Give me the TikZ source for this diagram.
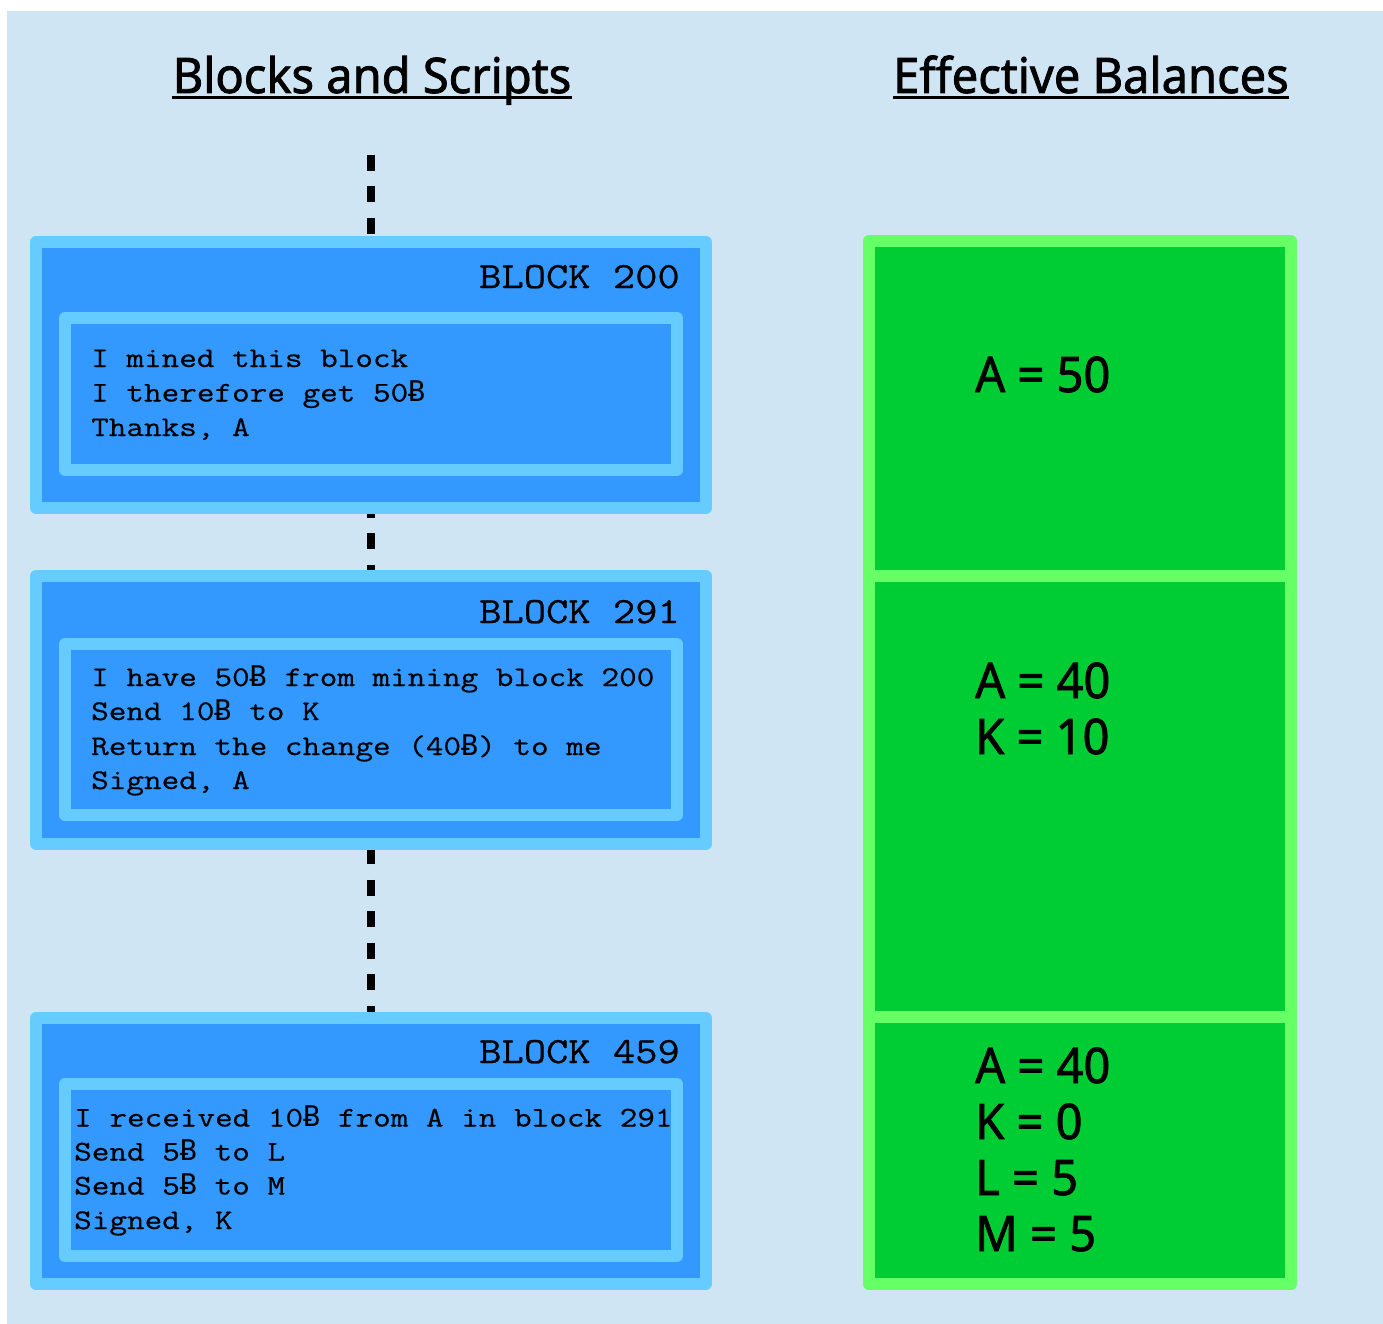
\documentclass[tikz,border=0pt]{standalone}
\usepackage{fontspec}
\usetikzlibrary{backgrounds}
\setmainfont{Noto Sans}
\newfontfamily\headfont{Noto Sans}[FakeBold=1.6,FakeStretch=0.96]
\newfontfamily\codefont{Latin Modern Mono}[FakeStretch=1.2,FakeBold=0.6]
\newfontfamily\tagfont{Latin Modern Mono}[FakeStretch=1.17,FakeBold=0.6]
\newfontfamily\coinfont{DejaVu Sans Mono}
\newcommand\coin{{\coinfont Ƀ}}

\definecolor{bgblue}{HTML}{CFE5F3}
\definecolor{blockedge}{HTML}{66CCFF}
\definecolor{blockfill}{HTML}{3399FF}
\definecolor{baledge}{HTML}{66FF66}
\definecolor{balfill}{HTML}{00CC33}

\begin{document}
\begin{tikzpicture}[x=1pt,y=-1pt,
  heading/.style={font=\headfont\fontsize{49}{58}\selectfont, inner sep=0pt, anchor=base},
  uline/.style={line width=3pt},
  blockbox/.style={draw=blockedge, fill=blockfill, line width=12pt, line join=round,
    minimum width=670pt, inner sep=0pt},
  scriptbox/.style={draw=blockedge, fill=blockfill, line width=12pt, line join=round,
    minimum width=612pt, inner sep=0pt},
  balbox/.style={draw=baledge, fill=balfill, line width=12pt, line join=round,
    minimum width=422pt, inner sep=0pt},
  blocktitle/.style={font=\tagfont\fontsize{37}{44}\selectfont, inner sep=0pt, anchor=base east},
  codeline/.style={font=\codefont\fontsize{28.5}{34}\selectfont, inner sep=0pt, anchor=base west},
  balline/.style={font=\headfont\fontsize{49}{56}\selectfont, inner sep=0pt, anchor=base west},
  chain/.style={line width=8pt, dash pattern=on 16pt off 15.5pt}]

\useasboundingbox (0,0) rectangle (1383,1324);
\begin{scope}[on background layer]
  \fill[bgblue] (7,11) rectangle (1383,1324);
\end{scope}

% column headings
\node[heading] (lefthead) at (372,93) {Blocks and Scripts};
\node[heading] (righthead) at (1091,93) {Effective Balances};
\draw[uline] ([yshift=-5pt]lefthead.base west) -- ([yshift=-5pt]lefthead.base east);
\draw[uline] ([yshift=-5pt]righthead.base west) -- ([yshift=-5pt]righthead.base east);

% block 200
\node[blockbox, minimum height=266pt] (b200) at (371,375) {};
\node[blocktitle] (b200t) at (680,288) {BLOCK 200};
\node[scriptbox, minimum height=152pt] (s200) at (371,394) {};
\node[codeline] (s200a) at (91,367) {I mined this block};
\node[codeline] (s200b) at (91,401.5) {I therefore get 50\coin};
\node[codeline] (s200c) at (91,436) {Thanks, A};

% block 291
\node[blockbox, minimum height=268pt] (b291) at (371,710) {};
\node[blocktitle] (b291t) at (680,623) {BLOCK 291};
\node[scriptbox, minimum height=171pt] (s291) at (371,729.5) {};
\node[codeline] (s291a) at (91,686) {I have 50\coin{} from mining block 200};
\node[codeline] (s291b) at (91,720) {Send 10\coin{} to K};
\node[codeline] (s291c) at (91,755) {Return the change (40\coin) to me};
\node[codeline] (s291d) at (91,789) {Signed, A};

% block 459
\node[blockbox, minimum height=266pt] (b459) at (371,1151) {};
\node[blocktitle] (b459t) at (680,1063) {BLOCK 459};
\node[scriptbox, minimum height=172pt] (s459) at (371,1170) {};
\node[codeline] (s459a) at (74,1126.5) {I received 10\coin{} from A in block 291};
\node[codeline] (s459b) at (74,1160.5) {Send 5\coin{} to L};
\node[codeline] (s459c) at (74,1194.5) {Send 5\coin{} to M};
\node[codeline] (s459d) at (74,1229) {Signed, K};

% chain running behind the blocks
\coordinate (chaintop) at (371,155);
\begin{scope}[on background layer]
  \draw[chain] (chaintop) -- (b459.north);
\end{scope}

% balance panel
\node[balbox, minimum height=335pt] (bal1) at (1080,408.5) {};
\node[balbox, minimum height=441pt] (bal2) at (1080,796.5) {};
\node[balbox, minimum height=267pt] (bal3) at (1080,1150.5) {};
\node[balline] (bal1a) at (975,392) {A = 50};
\node[balline] (bal2a) at (975,698) {A = 40};
\node[balline] (bal2b) at (975,754) {K = 10};
\node[balline] (bal3a) at (975,1083) {A = 40};
\node[balline] (bal3b) at (975,1139) {K = 0};
\node[balline] (bal3c) at (975,1195) {L = 5};
\node[balline] (bal3d) at (975,1251) {M = 5};
\end{tikzpicture}
\end{document}
